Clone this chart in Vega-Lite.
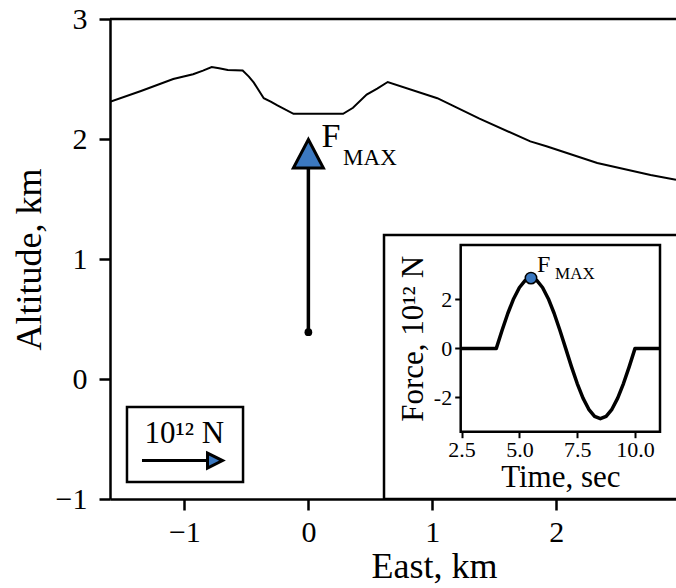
{
  "$schema": "https://vega.github.io/schema/vega-lite/v6.json",
  "width": 566,
  "height": 480,
  "autosize": {"type": "none"},
  "padding": {"left": 110, "top": 19, "right": 0, "bottom": 89},
  "background": "white",
  "config": {
    "font": "Liberation Serif",
    "view": {"stroke": null},
    "axis": {
      "domainColor": "black", "tickColor": "black", "labelColor": "black", "titleColor": "black",
      "grid": false, "titleFontWeight": "normal", "labelFont": "Liberation Serif", "titleFont": "Liberation Serif"
    }
  },
  "datasets": {
    "terrain": [
      {"east": -1.6, "alt": 2.31}, {"east": -1.35, "alt": 2.40}, {"east": -1.09, "alt": 2.50},
      {"east": -0.93, "alt": 2.54}, {"east": -0.85, "alt": 2.57}, {"east": -0.78, "alt": 2.60},
      {"east": -0.72, "alt": 2.59}, {"east": -0.65, "alt": 2.575}, {"east": -0.53, "alt": 2.57},
      {"east": -0.48, "alt": 2.52}, {"east": -0.44, "alt": 2.47}, {"east": -0.36, "alt": 2.34},
      {"east": -0.30, "alt": 2.31}, {"east": -0.25, "alt": 2.28}, {"east": -0.12, "alt": 2.21},
      {"east": 0.28, "alt": 2.21}, {"east": 0.36, "alt": 2.26}, {"east": 0.47, "alt": 2.37},
      {"east": 0.555, "alt": 2.42}, {"east": 0.64, "alt": 2.475}, {"east": 1.04, "alt": 2.34},
      {"east": 1.38, "alt": 2.17}, {"east": 1.79, "alt": 1.98}, {"east": 1.92, "alt": 1.94},
      {"east": 2.33, "alt": 1.80}, {"east": 2.76, "alt": 1.70}, {"east": 2.965, "alt": 1.66}
    ],
    "force": [
      {"t": 2.46, "f": 0}, {"t": 4.0, "f": 0}, {"t": 4.25, "f": 0.743}, {"t": 4.5, "f": 1.435},
      {"t": 4.75, "f": 2.029}, {"t": 5.0, "f": 2.485}, {"t": 5.25, "f": 2.772}, {"t": 5.5, "f": 2.87},
      {"t": 5.75, "f": 2.772}, {"t": 6.0, "f": 2.485}, {"t": 6.25, "f": 2.029}, {"t": 6.5, "f": 1.435},
      {"t": 6.75, "f": 0.743}, {"t": 7.0, "f": 0}, {"t": 7.25, "f": -0.743}, {"t": 7.5, "f": -1.435},
      {"t": 7.75, "f": -2.029}, {"t": 8.0, "f": -2.485}, {"t": 8.25, "f": -2.772}, {"t": 8.5, "f": -2.87},
      {"t": 8.75, "f": -2.772}, {"t": 9.0, "f": -2.485}, {"t": 9.25, "f": -2.029}, {"t": 9.5, "f": -1.435},
      {"t": 9.75, "f": -0.743}, {"t": 10.0, "f": 0}, {"t": 11.08, "f": 0}
    ],
    "peak": [{"t": 5.5, "f": 2.87}],
    "source": [{"east": 0, "alt": 0.39}]
  },
  "layer": [
    {
      "data": {"name": "terrain"},
      "mark": {"type": "line", "stroke": "black", "strokeWidth": 2, "clip": true},
      "encoding": {
        "x": {"field": "east", "type": "quantitative", "scale": {"domain": [-1.6, 2.965], "nice": false, "zero": false},
          "axis": {"title": "East, km", "values": [-1, 0, 1, 2], "format": "d", "labelFontSize": 30, "titleFontSize": 36,
            "tickSize": 11, "tickWidth": 2.5, "domainWidth": 2.5, "labelPadding": 7, "titlePadding": 2, "titleX": 324, "zindex": 2}},
        "y": {"field": "alt", "type": "quantitative", "scale": {"domain": [-1, 3], "nice": false, "zero": false},
          "axis": {"title": "Altitude, km", "values": [-1, 0, 1, 2, 3], "format": "d", "labelFontSize": 30, "titleFontSize": 36,
            "tickSize": 11, "tickWidth": 2.5, "domainWidth": 2.5, "labelPadding": 12, "titlePadding": 7, "zindex": 2}}
      }
    },
    {
      "data": {"values": [{}]},
      "mark": {"type": "rule", "stroke": "black", "strokeWidth": 2.5},
      "encoding": {
        "y": {"datum": 3, "type": "quantitative", "scale": {"domain": [-1, 3], "nice": false, "zero": false}, "axis": null}
      }
    },
    {
      "data": {"values": [{}]},
      "mark": {"type": "rule", "stroke": "black", "strokeWidth": 3.5},
      "encoding": {
        "x": {"datum": 0, "type": "quantitative", "scale": {"domain": [-1.6, 2.965], "nice": false, "zero": false}, "axis": null},
        "y": {"datum": 0.39, "type": "quantitative", "scale": {"domain": [-1, 3], "nice": false, "zero": false}, "axis": null},
        "y2": {"datum": 1.76}
      }
    },
    {
      "data": {"name": "source"},
      "mark": {"type": "point", "filled": true, "color": "black", "size": 60, "opacity": 1},
      "encoding": {
        "x": {"field": "east", "type": "quantitative", "scale": {"domain": [-1.6, 2.965], "nice": false, "zero": false}, "axis": null},
        "y": {"field": "alt", "type": "quantitative", "scale": {"domain": [-1, 3], "nice": false, "zero": false}, "axis": null}
      }
    },
    {
      "data": {"values": [{}]},
      "mark": {"type": "point", "shape": "M0,-1L1,0.9L-1,0.9Z", "size": 900, "filled": true, "fill": "#3b78c0", "stroke": "black", "strokeWidth": 3, "opacity": 1},
      "encoding": {
        "x": {"datum": 0, "type": "quantitative", "scale": {"domain": [-1.6, 2.965], "nice": false, "zero": false}, "axis": null},
        "y": {"datum": 1.871, "type": "quantitative", "scale": {"domain": [-1, 3], "nice": false, "zero": false}, "axis": null}
      }
    },
    {
      "data": {"values": [{}]},
      "mark": {"type": "text", "text": "F", "fontSize": 34, "align": "left", "baseline": "alphabetic", "color": "black"},
      "encoding": {
        "x": {"datum": 0.105, "type": "quantitative", "scale": {"domain": [-1.6, 2.965], "nice": false, "zero": false}, "axis": null},
        "y": {"datum": 1.933, "type": "quantitative", "scale": {"domain": [-1, 3], "nice": false, "zero": false}, "axis": null}
      }
    },
    {
      "data": {"values": [{}]},
      "mark": {"type": "text", "text": "MAX", "fontSize": 23, "align": "left", "baseline": "alphabetic", "color": "black"},
      "encoding": {
        "x": {"datum": 0.28, "type": "quantitative", "scale": {"domain": [-1.6, 2.965], "nice": false, "zero": false}, "axis": null},
        "y": {"datum": 1.783, "type": "quantitative", "scale": {"domain": [-1, 3], "nice": false, "zero": false}, "axis": null}
      }
    },
    {
      "data": {"values": [{}]},
      "mark": {"type": "rect", "fill": "white", "stroke": "black", "strokeWidth": 2.5},
      "encoding": {
        "x": {"datum": -1.463, "type": "quantitative", "scale": {"domain": [-1.6, 2.965], "nice": false, "zero": false}, "axis": null},
        "x2": {"datum": -0.527},
        "y": {"datum": -0.233, "type": "quantitative", "scale": {"domain": [-1, 3], "nice": false, "zero": false}, "axis": null},
        "y2": {"datum": -0.858}
      }
    },
    {
      "data": {"values": [{}]},
      "mark": {"type": "text", "text": "10¹² N", "fontSize": 31, "align": "center", "baseline": "alphabetic", "color": "black"},
      "encoding": {
        "x": {"datum": -1.0, "type": "quantitative", "scale": {"domain": [-1.6, 2.965], "nice": false, "zero": false}, "axis": null},
        "y": {"datum": -0.533, "type": "quantitative", "scale": {"domain": [-1, 3], "nice": false, "zero": false}, "axis": null}
      }
    },
    {
      "data": {"values": [{}]},
      "mark": {"type": "rule", "stroke": "black", "strokeWidth": 3},
      "encoding": {
        "x": {"datum": -1.342, "type": "quantitative", "scale": {"domain": [-1.6, 2.965], "nice": false, "zero": false}, "axis": null},
        "x2": {"datum": -0.8},
        "y": {"datum": -0.68, "type": "quantitative", "scale": {"domain": [-1, 3], "nice": false, "zero": false}, "axis": null}
      }
    },
    {
      "data": {"values": [{}]},
      "mark": {"type": "point", "shape": "M-1,-1L1,0L-1,1Z", "size": 225, "filled": true, "fill": "#3b78c0", "stroke": "black", "strokeWidth": 3, "opacity": 1},
      "encoding": {
        "x": {"datum": -0.753, "type": "quantitative", "scale": {"domain": [-1.6, 2.965], "nice": false, "zero": false}, "axis": null},
        "y": {"datum": -0.68, "type": "quantitative", "scale": {"domain": [-1, 3], "nice": false, "zero": false}, "axis": null}
      }
    },
    {
      "data": {"values": [{}]},
      "mark": {"type": "rect", "fill": "white", "stroke": "black", "strokeWidth": 2.5, "clip": true},
      "encoding": {
        "x": {"datum": 0.61, "type": "quantitative", "scale": {"domain": [-1.6, 2.965], "nice": false, "zero": false}, "axis": null},
        "x2": {"datum": 3.3},
        "y": {"datum": 1.2, "type": "quantitative", "scale": {"domain": [-1, 3], "nice": false, "zero": false}, "axis": null},
        "y2": {"datum": -1}
      }
    },
    {
      "data": {"values": [{}]},
      "mark": {"type": "rect", "fill": null, "fillOpacity": 0, "stroke": "black", "strokeWidth": 2.5},
      "encoding": {
        "x": {"datum": 2.46, "type": "quantitative", "scale": {"domain": [2.46, 11.08], "range": [350.7, 550], "nice": false, "zero": false}, "axis": null},
        "x2": {"datum": 11.08},
        "y": {"datum": -3.4, "type": "quantitative", "scale": {"domain": [-3.4, 4.22], "range": [412.7, 226], "nice": false, "zero": false}, "axis": null},
        "y2": {"datum": 4.22}
      }
    },
    {
      "data": {"name": "force"},
      "mark": {"type": "line", "stroke": "black", "strokeWidth": 3.5, "strokeJoin": "round"},
      "encoding": {
        "x": {"field": "t", "type": "quantitative",
          "scale": {"domain": [2.46, 11.08], "range": [350.7, 550], "nice": false, "zero": false},
          "axis": {"orient": "bottom", "offset": -67.3, "title": "Time, sec", "values": [2.5, 5, 7.5, 10], "format": ".1f",
            "labelFontSize": 22, "titleFontSize": 31, "tickSize": 6, "tickWidth": 2, "domain": false,
            "labelPadding": 2, "titlePadding": 2, "labelFlush": false, "labelOverlap": false, "zindex": 3}},
        "y": {"field": "f", "type": "quantitative",
          "scale": {"domain": [-3.4, 4.22], "range": [412.7, 226], "nice": false, "zero": false},
          "axis": {"orient": "left", "offset": -350.7, "title": "Force, 10¹² N", "values": [-2, 0, 2], "format": "d",
            "labelExpr": "replace(datum.label, '−', '-')",
            "labelFontSize": 22, "titleFontSize": 31, "tickSize": 6, "tickWidth": 2, "domain": false,
            "labelPadding": 3, "titlePadding": 4, "labelOverlap": false, "zindex": 3}}
      }
    },
    {
      "data": {"name": "peak"},
      "mark": {"type": "point", "filled": true, "fill": "#3b78c0", "stroke": "black", "strokeWidth": 1.5, "size": 130, "opacity": 1},
      "encoding": {
        "x": {"field": "t", "type": "quantitative", "scale": {"domain": [2.46, 11.08], "range": [350.7, 550], "nice": false, "zero": false}, "axis": null},
        "y": {"field": "f", "type": "quantitative", "scale": {"domain": [-3.4, 4.22], "range": [412.7, 226], "nice": false, "zero": false}, "axis": null}
      }
    },
    {
      "data": {"values": [{}]},
      "mark": {"type": "text", "text": "F", "fontSize": 24, "align": "left", "baseline": "alphabetic", "color": "black"},
      "encoding": {
        "x": {"datum": 5.76, "type": "quantitative", "scale": {"domain": [2.46, 11.08], "range": [350.7, 550], "nice": false, "zero": false}, "axis": null},
        "y": {"datum": 3.12, "type": "quantitative", "scale": {"domain": [-3.4, 4.22], "range": [412.7, 226], "nice": false, "zero": false}, "axis": null}
      }
    },
    {
      "data": {"values": [{}]},
      "mark": {"type": "text", "text": "MAX", "fontSize": 17, "align": "left", "baseline": "alphabetic", "color": "black"},
      "encoding": {
        "x": {"datum": 6.54, "type": "quantitative", "scale": {"domain": [2.46, 11.08], "range": [350.7, 550], "nice": false, "zero": false}, "axis": null},
        "y": {"datum": 2.84, "type": "quantitative", "scale": {"domain": [-3.4, 4.22], "range": [412.7, 226], "nice": false, "zero": false}, "axis": null}
      }
    }
  ],
  "resolve": {
    "scale": {"x": "independent", "y": "independent"},
    "axis": {"x": "independent", "y": "independent"}
  }
}
